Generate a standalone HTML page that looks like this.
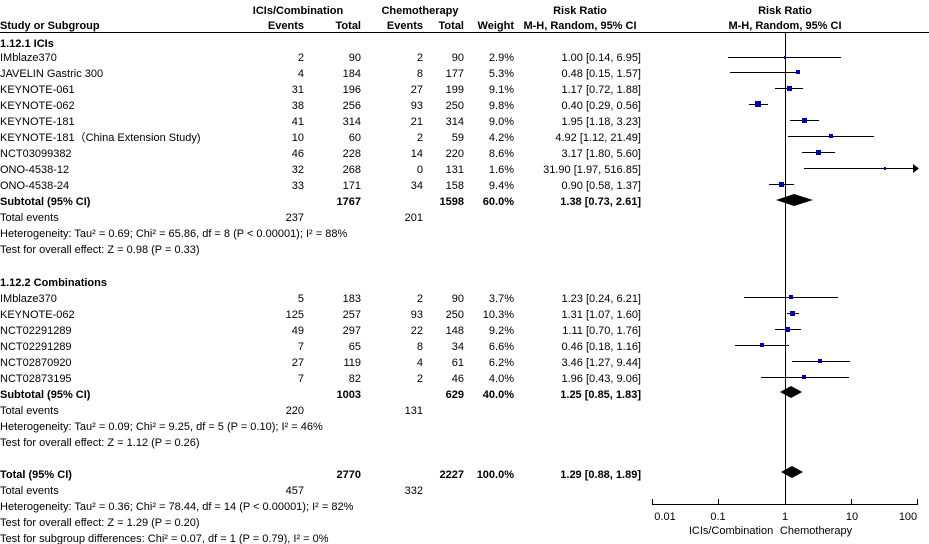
<!DOCTYPE html>
<html><head><meta charset="utf-8"><style>
body{margin:0;background:#fff}
svg{display:block;font-family:"Liberation Sans",Arial,sans-serif;font-size:11px;fill:#000}
.b{font-weight:bold}
.e{text-anchor:end}
.m{text-anchor:middle}
</style></head><body>
<svg width="929" height="544" viewBox="0 0 929 544">
<g class="b">
<text x="298" y="14" class="m">ICIs/Combination</text>
<text x="420" y="14" class="m">Chemotherapy</text>
<text x="580" y="14" class="m">Risk Ratio</text>
<text x="785" y="14" class="m">Risk Ratio</text>
<text x="0" y="29">Study or Subgroup</text>
<text x="304" y="29" class="e">Events</text>
<text x="361" y="29" class="e">Total</text>
<text x="423" y="29" class="e">Events</text>
<text x="464" y="29" class="e">Total</text>
<text x="514" y="29" class="e">Weight</text>
<text x="580" y="29" class="m">M-H, Random, 95% CI</text>
<text x="785" y="29" class="m">M-H, Random, 95% CI</text>
</g>
<line x1="0" y1="32.5" x2="929" y2="32.5" stroke="#000" stroke-width="1"/>
<text x="0" y="47" class="b">1.12.1 ICIs</text>
<g id="rows1">
<text x="0" y="61">IMblaze370</text><text x="304" y="61" class="e">2</text><text x="361" y="61" class="e">90</text><text x="423" y="61" class="e">2</text><text x="464" y="61" class="e">90</text><text x="514" y="61" class="e">2.9%</text><text x="641" y="61" class="e">1.00 [0.14, 6.95]</text>
<text x="0" y="77">JAVELIN Gastric 300</text><text x="304" y="77" class="e">4</text><text x="361" y="77" class="e">184</text><text x="423" y="77" class="e">8</text><text x="464" y="77" class="e">177</text><text x="514" y="77" class="e">5.3%</text><text x="641" y="77" class="e">0.48 [0.15, 1.57]</text>
<text x="0" y="93">KEYNOTE-061</text><text x="304" y="93" class="e">31</text><text x="361" y="93" class="e">196</text><text x="423" y="93" class="e">27</text><text x="464" y="93" class="e">199</text><text x="514" y="93" class="e">9.1%</text><text x="641" y="93" class="e">1.17 [0.72, 1.88]</text>
<text x="0" y="109">KEYNOTE-062</text><text x="304" y="109" class="e">38</text><text x="361" y="109" class="e">256</text><text x="423" y="109" class="e">93</text><text x="464" y="109" class="e">250</text><text x="514" y="109" class="e">9.8%</text><text x="641" y="109" class="e">0.40 [0.29, 0.56]</text>
<text x="0" y="125">KEYNOTE-181</text><text x="304" y="125" class="e">41</text><text x="361" y="125" class="e">314</text><text x="423" y="125" class="e">21</text><text x="464" y="125" class="e">314</text><text x="514" y="125" class="e">9.0%</text><text x="641" y="125" class="e">1.95 [1.18, 3.23]</text>
<text x="0" y="141">KEYNOTE-181（China Extension Study)</text><text x="304" y="141" class="e">10</text><text x="361" y="141" class="e">60</text><text x="423" y="141" class="e">2</text><text x="464" y="141" class="e">59</text><text x="514" y="141" class="e">4.2%</text><text x="641" y="141" class="e">4.92 [1.12, 21.49]</text>
<text x="0" y="157">NCT03099382</text><text x="304" y="157" class="e">46</text><text x="361" y="157" class="e">228</text><text x="423" y="157" class="e">14</text><text x="464" y="157" class="e">220</text><text x="514" y="157" class="e">8.6%</text><text x="641" y="157" class="e">3.17 [1.80, 5.60]</text>
<text x="0" y="173">ONO-4538-12</text><text x="304" y="173" class="e">32</text><text x="361" y="173" class="e">268</text><text x="423" y="173" class="e">0</text><text x="464" y="173" class="e">131</text><text x="514" y="173" class="e">1.6%</text><text x="641" y="173" class="e">31.90 [1.97, 516.85]</text>
<text x="0" y="189">ONO-4538-24</text><text x="304" y="189" class="e">33</text><text x="361" y="189" class="e">171</text><text x="423" y="189" class="e">34</text><text x="464" y="189" class="e">158</text><text x="514" y="189" class="e">9.4%</text><text x="641" y="189" class="e">0.90 [0.58, 1.37]</text>
<g class="b"><text x="0" y="205">Subtotal (95% CI)</text><text x="361" y="205" class="e">1767</text><text x="464" y="205" class="e">1598</text><text x="514" y="205" class="e">60.0%</text><text x="641" y="205" class="e">1.38 [0.73, 2.61]</text></g>
<text x="0" y="221">Total events</text><text x="304" y="221" class="e">237</text><text x="423" y="221" class="e">201</text>
<text x="0" y="237">Heterogeneity: Tau² = 0.69; Chi² = 65.86, df = 8 (P &lt; 0.00001); I² = 88%</text>
<text x="0" y="253">Test for overall effect: Z = 0.98 (P = 0.33)</text>
</g>
<text x="0" y="286" class="b">1.12.2 Combinations</text>
<text x="0" y="302">IMblaze370</text><text x="304" y="302" class="e">5</text><text x="361" y="302" class="e">183</text><text x="423" y="302" class="e">2</text><text x="464" y="302" class="e">90</text><text x="514" y="302" class="e">3.7%</text><text x="641" y="302" class="e">1.23 [0.24, 6.21]</text>
<text x="0" y="318">KEYNOTE-062</text><text x="304" y="318" class="e">125</text><text x="361" y="318" class="e">257</text><text x="423" y="318" class="e">93</text><text x="464" y="318" class="e">250</text><text x="514" y="318" class="e">10.3%</text><text x="641" y="318" class="e">1.31 [1.07, 1.60]</text>
<text x="0" y="334">NCT02291289</text><text x="304" y="334" class="e">49</text><text x="361" y="334" class="e">297</text><text x="423" y="334" class="e">22</text><text x="464" y="334" class="e">148</text><text x="514" y="334" class="e">9.2%</text><text x="641" y="334" class="e">1.11 [0.70, 1.76]</text>
<text x="0" y="350">NCT02291289</text><text x="304" y="350" class="e">7</text><text x="361" y="350" class="e">65</text><text x="423" y="350" class="e">8</text><text x="464" y="350" class="e">34</text><text x="514" y="350" class="e">6.6%</text><text x="641" y="350" class="e">0.46 [0.18, 1.16]</text>
<text x="0" y="366">NCT02870920</text><text x="304" y="366" class="e">27</text><text x="361" y="366" class="e">119</text><text x="423" y="366" class="e">4</text><text x="464" y="366" class="e">61</text><text x="514" y="366" class="e">6.2%</text><text x="641" y="366" class="e">3.46 [1.27, 9.44]</text>
<text x="0" y="382">NCT02873195</text><text x="304" y="382" class="e">7</text><text x="361" y="382" class="e">82</text><text x="423" y="382" class="e">2</text><text x="464" y="382" class="e">46</text><text x="514" y="382" class="e">4.0%</text><text x="641" y="382" class="e">1.96 [0.43, 9.06]</text>
<g class="b"><text x="0" y="398">Subtotal (95% CI)</text><text x="361" y="398" class="e">1003</text><text x="464" y="398" class="e">629</text><text x="514" y="398" class="e">40.0%</text><text x="641" y="398" class="e">1.25 [0.85, 1.83]</text></g>
<text x="0" y="414">Total events</text><text x="304" y="414" class="e">220</text><text x="423" y="414" class="e">131</text>
<text x="0" y="430">Heterogeneity: Tau² = 0.09; Chi² = 9.25, df = 5 (P = 0.10); I² = 46%</text>
<text x="0" y="446">Test for overall effect: Z = 1.12 (P = 0.26)</text>
<g class="b"><text x="0" y="478">Total (95% CI)</text><text x="361" y="478" class="e">2770</text><text x="464" y="478" class="e">2227</text><text x="514" y="478" class="e">100.0%</text><text x="641" y="478" class="e">1.29 [0.88, 1.89]</text></g>
<text x="0" y="494">Total events</text><text x="304" y="494" class="e">457</text><text x="423" y="494" class="e">332</text>
<text x="0" y="510">Heterogeneity: Tau² = 0.36; Chi² = 78.44, df = 14 (P &lt; 0.00001); I² = 82%</text>
<text x="0" y="526">Test for overall effect: Z = 1.29 (P = 0.20)</text>
<text x="0" y="542">Test for subgroup differences: Chi² = 0.07, df = 1 (P = 0.79), I² = 0%</text>

<!-- plot -->
<line x1="785.5" y1="33" x2="785.5" y2="504" stroke="#000"/>
<g stroke="#000" stroke-width="1">
<line x1="728" y1="57.5" x2="841" y2="57.5"/>
<line x1="730" y1="72.5" x2="798" y2="72.5"/>
<line x1="775" y1="88.5" x2="803" y2="88.5"/>
<line x1="749" y1="104.5" x2="768" y2="104.5"/>
<line x1="790" y1="120.5" x2="819" y2="120.5"/>
<line x1="788" y1="136.5" x2="874" y2="136.5"/>
<line x1="802" y1="152.5" x2="835" y2="152.5"/>
<line x1="804" y1="168.5" x2="914" y2="168.5"/>
<line x1="769" y1="184.5" x2="794" y2="184.5"/>
<line x1="744" y1="297.5" x2="838" y2="297.5"/>
<line x1="787" y1="313.5" x2="799" y2="313.5"/>
<line x1="775" y1="329.5" x2="801" y2="329.5"/>
<line x1="735" y1="345.5" x2="789" y2="345.5"/>
<line x1="792" y1="361.5" x2="850" y2="361.5"/>
<line x1="761" y1="377.5" x2="849" y2="377.5"/>
</g>
<polygon points="913,164 919,168.5 913,173" fill="#000"/>
<g fill="#0000b0">
<rect x="784" y="56" width="2" height="3"/>
<rect x="796" y="70" width="4" height="4"/>
<rect x="787" y="86" width="5" height="5"/>
<rect x="755" y="101" width="6" height="6"/>
<rect x="802" y="118" width="5" height="5"/>
<rect x="829" y="134" width="4" height="4"/>
<rect x="816" y="150" width="5" height="5"/>
<rect x="884" y="167" width="2" height="3"/>
<rect x="779" y="182" width="5" height="5"/>
<rect x="789" y="295" width="4" height="4"/>
<rect x="790" y="311" width="5" height="5"/>
<rect x="785" y="327" width="5" height="5"/>
<rect x="760" y="343" width="4" height="4"/>
<rect x="818" y="359" width="4" height="4"/>
<rect x="802" y="375" width="4" height="4"/>
</g>
<polygon points="776,200 794,194 813,200 794,206" fill="#000"/>
<polygon points="780,392 791,386 802,392 791,398" fill="#000"/>
<polygon points="781,472 792,466 803,472 792,478" fill="#000"/>
<!-- axis -->
<g stroke="#000">
<line x1="652" y1="504.5" x2="918" y2="504.5"/>
<line x1="652.5" y1="499" x2="652.5" y2="504"/>
<line x1="718.5" y1="499" x2="718.5" y2="504"/>
<line x1="785.5" y1="499" x2="785.5" y2="504"/>
<line x1="851.5" y1="499" x2="851.5" y2="504"/>
<line x1="917.5" y1="499" x2="917.5" y2="504"/>
</g>
<text x="665" y="520" class="m">0.01</text>
<text x="718" y="520" class="m">0.1</text>
<text x="785" y="520" class="m">1</text>
<text x="852" y="520" class="m">10</text>
<text x="908" y="520" class="m">100</text>
<text x="731" y="534" class="m">ICIs/Combination</text>
<text x="816" y="534" class="m">Chemotherapy</text>
</svg>
</body></html>
